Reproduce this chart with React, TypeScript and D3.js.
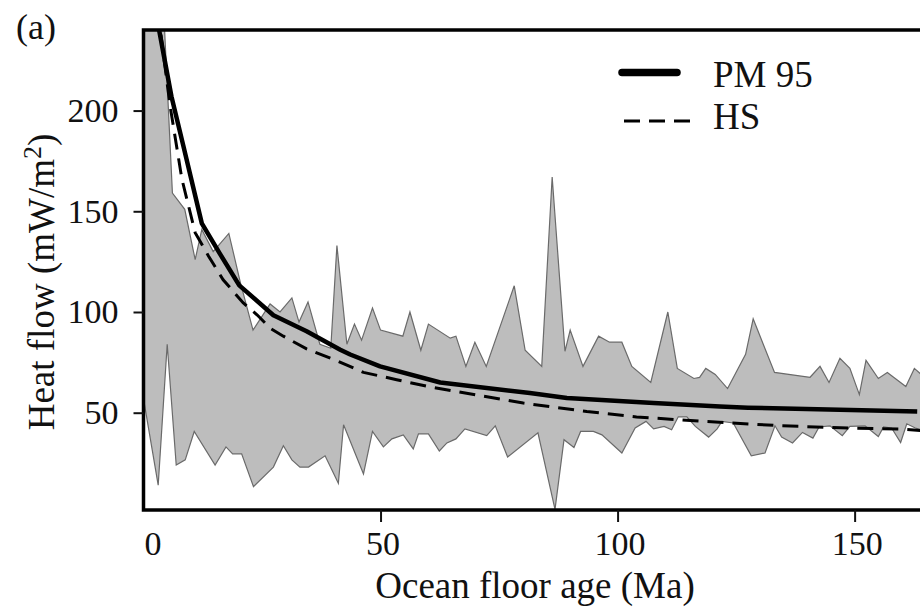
import React, { useEffect, useRef } from "react";
import * as d3 from "d3";

// grey band: upper edge of observed heat flow
const upperAge = [
  0, 4.0, 6.1, 8.7, 10.9, 12.3, 14.7, 18.0, 20.4, 23.1, 26.7, 28.8, 31.3, 32.8,
  34.7, 37.2, 39.5, 40.8, 42.9, 44.5, 46.0, 48.3, 50.0, 54.7, 56.2, 58.5, 60.1,
  64.7, 65.9, 68.0, 69.9, 72.3, 78.2, 80.5, 84.0, 86.2, 88.9, 90.0, 92.7, 96.0,
  98.3, 100.9, 103.0, 107.0, 110.6, 112.6, 116.1, 117.3, 118.6, 120.6, 123.2,
  127.0, 128.6, 133.1, 140.6, 142.7, 144.6, 146.9, 149.0, 151.0, 152.4, 155.0,
  156.9, 160.8, 162.6, 165.0,
];
const upperFlow = [
  300, 262, 159, 151, 126, 141, 130, 139, 115, 91, 104, 100, 107, 95, 105, 84,
  82, 133, 84, 94, 86, 102, 91, 88, 100, 81, 94, 87, 88, 73, 85, 73, 113, 81,
  73, 167, 80.5, 91, 73, 88, 85, 85, 73, 65, 100, 72, 67, 67.5, 72, 69, 62, 79,
  96.6, 70, 67.6, 73, 65, 77, 72, 59, 76, 67, 70, 63, 72, 67,
];

// grey band: lower edge
const lowerAge = [
  0, 3.1, 5.0, 6.9, 8.8, 10.7, 15.1, 17.4, 18.8, 20.7, 23.2, 27.4, 29.5, 31.3,
  33.0, 34.8, 38.3, 41.1, 42.2, 46.4, 48.3, 50.6, 52.4, 54.8, 56.9, 58.0, 60.1,
  62.4, 64.0, 65.9, 67.8, 72.4, 74.2, 76.8, 83.2, 86.8, 88.7, 90.8, 92.2, 94.9,
  96.7, 100.9, 103.7, 106.0, 107.6, 109.8, 111.4, 112.8, 114.6, 116.4, 119.2,
  121.0, 122.0, 124.4, 128.2, 131.1, 133.2, 134.6, 136.9, 139.0, 141.2, 142.5,
  144.8, 147.4, 149.0, 152.2, 155.0, 156.1, 157.8, 159.7, 161.0, 162.8, 165.0,
];
const lowerFlow = [
  57, 14, 84, 24, 26.6, 40.7, 24, 33, 29.6, 29.6, 13.3, 23, 33.6, 26.6, 23, 23,
  28.6, 15, 44, 19.6, 40.7, 33, 37, 39, 32, 39.5, 39.5, 31, 35, 37, 42, 38.6,
  43.5, 28, 40, 2, 36.6, 32.7, 40.7, 40.7, 39, 30, 42.4, 45.7, 42, 43.2, 41.5,
  48, 47.9, 43.2, 37.9, 42, 45.7, 44.9, 28.6, 30, 43.5, 37.9, 35, 40.2, 37.4,
  42.9, 43.5, 38.6, 43.2, 43.5, 38.2, 42.9, 42.4, 35.2, 44.5, 42.4, 41,
];

// model curves
const pmAge = [
  2.5, 5.9, 8.4, 12.3, 16.1, 20.2, 27.4, 34.4, 41.5, 43.6, 49.9, 62.6, 81.5,
  89.3, 107.6, 121.6, 127.5, 163.2,
];
const pmFlow = [
  250, 207, 182.5, 144, 129, 113.2, 98.4, 90.4, 81.3, 78.9, 73, 65, 59.8, 57.3,
  54.8, 53.1, 52.5, 50.6,
];
const hsAge = [
  3.0, 5.6, 8.1, 10.9, 13.7, 16.8, 21.0, 24.0, 26.7, 29.5, 34.4, 41.1, 46.4,
  53.4, 60.4, 71.0, 80.1, 93.5, 104.0, 118.1, 134.6, 148.7, 160.0, 165.0,
];
const hsFlow = [
  250, 202.4, 166, 139.4, 127.8, 116, 104.6, 98.5, 92, 88, 81.7, 75.5, 70,
  66.4, 62.8, 58.5, 54.8, 50.6, 47.9, 45.7, 43.5, 42.4, 41.9, 41,
];

const seriesNames = ["PM 95", "HS"];
const xTicks = [0, 50, 100, 150];
const yTicks = [50, 100, 150, 200];

const serif = "'Liberation Serif', 'Times New Roman', serif";

const Axis = ({ scale, orient, transform, ticks, size, padding }) => {
  const axisRef = useRef(null);

  useEffect(() => {
    const axisGenerator =
      orient === "bottom" ? d3.axisBottom(scale) : d3.axisLeft(scale);
    axisGenerator
      .tickValues(ticks)
      .tickSize(size)
      .tickPadding(padding)
      .tickFormat(d3.format("d"));
    const g = d3.select(axisRef.current).call(axisGenerator);
    g.select(".domain").remove();
    g.selectAll(".tick line").attr("stroke", "#111").attr("stroke-width", 2);
    g.selectAll(".tick text")
      .attr("font-family", serif)
      .attr("font-size", 34)
      .attr("fill", "#111");
    if (orient === "bottom") {
      // the first label sits a little right of the corner
      g.selectAll(".tick text").attr("dx", (d) => (d === 0 ? 9 : 2));
      g.selectAll(".tick line").filter((d) => d === 0).remove();
    }
  }, [scale, orient]);

  return <g ref={axisRef} transform={transform} />;
};

export default function App() {
  const width = 920;
  const height = 610;
  const margin = { top: 30, left: 143.5, bottom: 100 };

  const xScale = d3.scaleLinear().domain([0, 164]).range([margin.left, 921]);
  const yScale = d3
    .scaleLinear()
    .domain([1.7, 240])
    .range([height - margin.bottom, margin.top]);

  const [x0, x1] = xScale.range();
  const [yBottom, yTop] = yScale.range();

  const toLine = d3
    .line()
    .x((d) => xScale(d[0]))
    .y((d) => yScale(d[1]));

  const upper = upperAge.map((a, i) => [a, upperFlow[i]]);
  const lower = lowerAge.map((a, i) => [a, lowerFlow[i]]).reverse();
  const bandPath = toLine([...upper, ...lower]) + "Z";
  const pmPath = toLine(pmAge.map((a, i) => [a, pmFlow[i]]));
  const hsPath = toLine(hsAge.map((a, i) => [a, hsFlow[i]]));

  return (
    <svg
      width={width}
      height={height}
      style={{ position: "absolute", left: 0, top: 0, background: "#fff" }}
    >
      <defs>
        <clipPath id="plot-clip">
          <rect x={x0} y={yTop} width={x1 - x0 + 20} height={yBottom - yTop} />
        </clipPath>
      </defs>

      <g clipPath="url(#plot-clip)">
        <path d={bandPath} fill="#bdbdbd" stroke="#6a6a6a" strokeWidth={1.2} />
        <path
          d={hsPath}
          fill="none"
          stroke="#000"
          strokeWidth={3}
          strokeDasharray="16 9"
        />
        <path
          d={pmPath}
          fill="none"
          stroke="#000"
          strokeWidth={4.5}
          strokeLinejoin="round"
        />
      </g>

      {/* frame, right side runs off the page */}
      <rect
        x={x0}
        y={yTop}
        width={x1 - x0 + 40}
        height={yBottom - yTop}
        fill="none"
        stroke="#000"
        strokeWidth={3.5}
      />

      <Axis
        scale={xScale}
        orient="bottom"
        ticks={xTicks}
        size={12}
        padding={9}
        transform={`translate(0,${yBottom})`}
      />
      <Axis
        scale={yScale}
        orient="left"
        ticks={yTicks}
        size={10}
        padding={15}
        transform={`translate(${x0},0)`}
      />

      <text x={535} y={598} textAnchor="middle" fontFamily={serif} fontSize={37} fill="#111">
        Ocean floor age (Ma)
      </text>
      <text
        transform={`translate(54,${(yTop + yBottom) / 2 + 12}) rotate(-90)`}
        textAnchor="middle"
        fontFamily={serif}
        fontSize={37}
        fill="#111"
      >
        Heat flow (mW/m
        <tspan fontSize={26} dy={-13}>2</tspan>
        <tspan dy={13}>)</tspan>
      </text>
      <text x={16} y={39} fontFamily={serif} fontSize={36} fill="#111">
        (a)
      </text>

      {/* legend */}
      <g fontFamily={serif} fontSize={37} fill="#111">
        <line x1={622} x2={677} y1={72.5} y2={72.5} stroke="#000" strokeWidth={7.5} strokeLinecap="round" />
        <text x={713} y={87}>{seriesNames[0]}</text>
        <line x1={624} x2={690} y1={121} y2={121} stroke="#000" strokeWidth={3} strokeDasharray="16 9" />
        <text x={713} y={129}>{seriesNames[1]}</text>
      </g>
    </svg>
  );
}
